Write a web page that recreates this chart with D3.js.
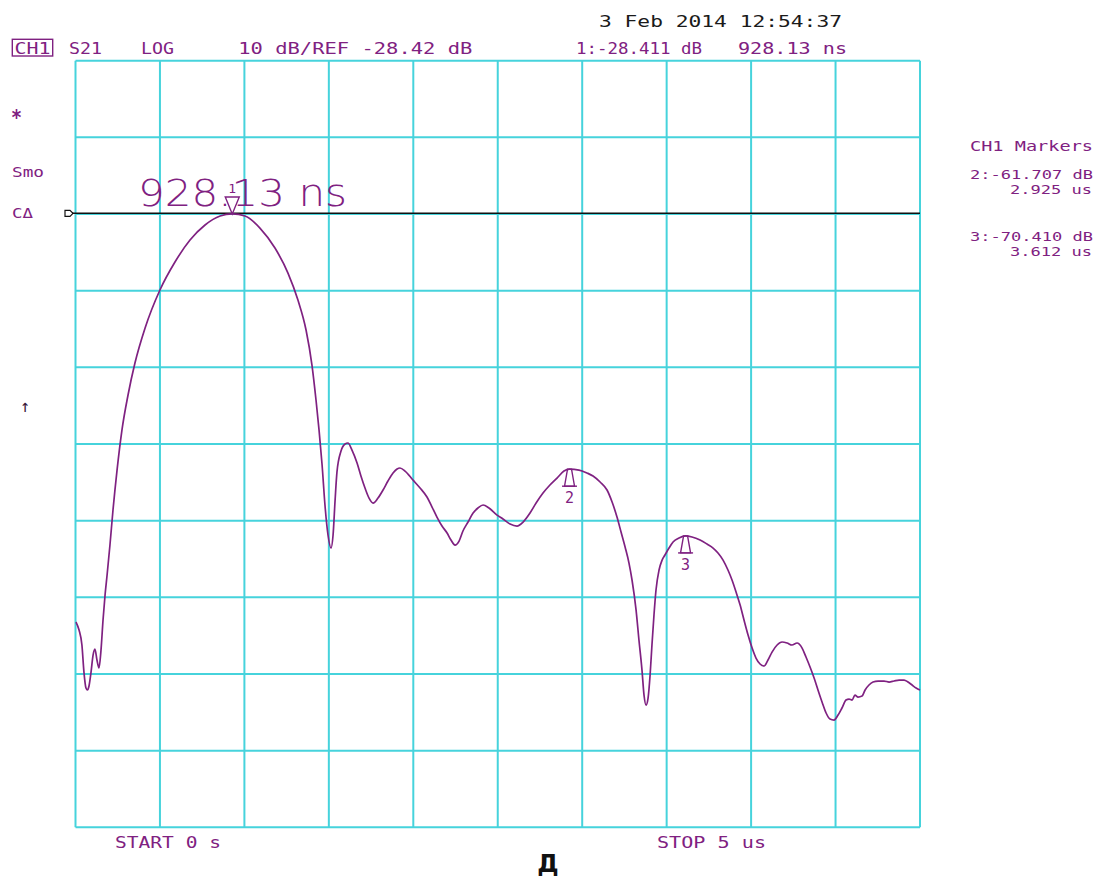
<!DOCTYPE html>
<html>
<head>
<meta charset="utf-8">
<script src="https://cdn.jsdelivr.net/npm/d3@7"></script>
<style>
  html, body { margin: 0; padding: 0; background: #fff; }
  svg { display: block; }
  .mono { font-family: "DejaVu Sans Mono", "Liberation Mono", monospace; }
</style>
</head>
<body>
<svg id="chart" width="1095" height="878"></svg>
<script>
// S21 time-domain response, channel 1 (10 dB/div, reference -28.42 dB)
const timeNs = [
  3, 21, 38, 50, 62, 71, 80, 92, 104, 115, 127, 139, 151, 163, 175, 187, 204, 222, 246, 275,
  311, 352, 412, 500, 589, 678, 767, 856, 928, 1004, 1092, 1181, 1258, 1317, 1365, 1400, 1424, 1442, 1460, 1477,
  1495, 1513, 1525, 1537, 1548, 1572, 1596, 1613, 1637, 1667, 1690, 1714, 1738, 1762, 1791, 1821, 1850, 1880, 1904, 1921,
  1951, 1998, 2040, 2081, 2111, 2140, 2170, 2200, 2223, 2247, 2271, 2294, 2324, 2354, 2383, 2413, 2448, 2496, 2531, 2573,
  2614, 2650, 2691, 2727, 2768, 2809, 2851, 2892, 2925, 2981, 3029, 3064, 3106, 3147, 3177, 3206, 3230, 3254, 3277, 3295,
  3319, 3336, 3354, 3366, 3378, 3390, 3402, 3413, 3425, 3437, 3455, 3473, 3490, 3514, 3538, 3573, 3612, 3650, 3698, 3739,
  3775, 3804, 3834, 3863, 3887, 3911, 3935, 3958, 3982, 4006, 4029, 4053, 4077, 4100, 4124, 4154, 4183, 4213, 4242, 4272,
  4302, 4325, 4349, 4373, 4396, 4420, 4444, 4467, 4491, 4515, 4538, 4562, 4580, 4598, 4615, 4633, 4657, 4675, 4698, 4722,
  4752, 4787, 4817, 4846, 4876, 4906, 4929, 4953, 4977, 5000
];
const magDb = [
  -81.64, -82.69, -84.64, -88.17, -90.25, -90.51, -89.99, -88.17, -85.95, -85.17, -86.60, -87.64, -85.30, -81.38, -78.12, -75.51, -71.60, -67.03, -61.82, -56.60,
  -52.03, -47.86, -43.29, -38.33, -34.68, -31.81, -29.85, -28.68, -28.41, -28.68, -30.25, -32.86, -36.12, -39.64, -43.55, -48.12, -52.68, -56.60, -61.16, -66.38,
  -70.29, -71.99, -70.29, -65.73, -62.08, -59.34, -58.42, -58.29, -59.21, -60.90, -62.60, -64.16, -65.47, -66.12, -65.47, -64.42, -63.25, -62.21, -61.68, -61.55,
  -61.95, -63.12, -64.16, -65.34, -66.64, -67.95, -69.12, -70.03, -70.95, -71.60, -71.08, -69.77, -68.60, -67.42, -66.77, -66.38, -66.77, -67.69, -68.21, -68.86,
  -69.12, -68.60, -67.42, -66.12, -64.82, -63.77, -62.86, -61.95, -61.71, -61.82, -62.21, -62.60, -63.38, -64.42, -65.99, -67.95, -69.90, -71.86, -73.95, -76.16,
  -80.08, -83.99, -87.91, -91.17, -92.47, -91.56, -88.56, -84.64, -80.73, -77.47, -74.86, -73.56, -72.90, -71.99, -71.21, -70.69, -70.41, -70.55, -70.95, -71.47,
  -71.99, -72.64, -73.56, -74.86, -76.16, -77.73, -79.43, -81.38, -83.34, -85.04, -86.34, -87.12, -87.38, -86.60, -85.56, -84.64, -84.25, -84.38, -84.64, -84.38,
  -85.04, -86.21, -87.51, -88.95, -90.51, -92.08, -93.51, -94.30, -94.43, -93.78, -92.86, -91.82, -91.69, -91.82, -91.17, -91.43, -91.30, -90.51, -89.86, -89.47,
  -89.34, -89.34, -89.47, -89.34, -89.21, -89.21, -89.47, -89.86, -90.25, -90.51
];

// Markers
const markerIds = ["1", "2", "3"];
const markerTimeNs = [928.13, 2925, 3612];
const markerDb = [-28.411, -61.707, -70.410];

// Scale settings
const refDb = -28.42;
const dbPerDiv = 10;
const refDiv = 2;          // reference line position, divisions from top
const stopNs = 5000;

const purple = "#7f2181";
const gridColor = "#46d3dc";

const svg = d3.select("#chart");
svg.append("rect").attr("width", 1095).attr("height", 878).attr("fill", "#fff");

const topDb = refDb + refDiv * dbPerDiv;
const bottomDb = topDb - 10 * dbPerDiv;

const x = d3.scaleLinear().domain([0, stopNs]).range([75.5, 920]);
const y = d3.scaleLinear().domain([bottomDb, topDb]).range([827.3, 60.7]);

// Graticule
const g = svg.append("g");
const xTicks = d3.range(0, 11).map(i => i * stopNs / 10);
const yTicks = d3.range(0, 11).map(i => bottomDb + i * dbPerDiv);
g.selectAll("line.v").data(xTicks).join("line")
  .attr("x1", d => x(d)).attr("x2", d => x(d))
  .attr("y1", y(topDb)).attr("y2", y(bottomDb))
  .attr("stroke", gridColor).attr("stroke-width", 2);
g.selectAll("line.h").data(yTicks).join("line")
  .attr("x1", x(0)).attr("x2", x(stopNs))
  .attr("y1", d => y(d)).attr("y2", d => y(d))
  .attr("stroke", gridColor).attr("stroke-width", 2);

// Reference line and pointer
const yRef = y(refDb) - 0.7;
svg.append("line").attr("x1", 72).attr("x2", x(stopNs)).attr("y1", yRef).attr("y2", yRef)
  .attr("stroke", "#111").attr("stroke-width", 1.4);
svg.append("path")
  .attr("d", `M65,${yRef - 3} L70,${yRef - 3} L73,${yRef} L70,${yRef + 3} L65,${yRef + 3} Z`)
  .attr("fill", "none").attr("stroke", "#111").attr("stroke-width", 1.2);

// Trace
const pts = timeNs.map((t, i) => [t, magDb[i]]);
const line = d3.line().x(d => x(d[0])).y(d => y(d[1])).curve(d3.curveMonotoneX);
svg.append("path").attr("d", line(pts))
  .attr("fill", "none").attr("stroke", purple).attr("stroke-width", 1.7)
  .attr("stroke-linejoin", "round");

// Active marker readout (large)
svg.append("text")
  .attr("x", 138).attr("y", 206)
  .attr("textLength", 209).attr("lengthAdjust", "spacingAndGlyphs")
  .attr("font-family", "DejaVu Sans, sans-serif").attr("font-weight", 200)
  .attr("font-size", 37).attr("fill", purple)
  .text(`${markerTimeNs[0].toFixed(2)} ns`);

// Marker symbols
markerIds.forEach((id, i) => {
  const mx = x(markerTimeNs[i]);
  const my = y(markerDb[i]);
  const mg = svg.append("g").attr("fill", "none").attr("stroke", purple).attr("stroke-width", 1.4);
  if (i === 0) {
    mg.append("path").attr("d", `M${mx - 7},${my - 17} L${mx + 7},${my - 17} L${mx},${my} Z`);
    svg.append("text").attr("class", "mono").attr("x", mx).attr("y", my - 21)
      .attr("text-anchor", "middle").attr("font-size", 13).attr("fill", purple).text(id);
  } else {
    mg.append("path").attr("d", `M${mx - 2},${my} L${mx + 2},${my} L${mx + 5},${my + 17} L${mx - 5},${my + 17} Z`);
    mg.append("line").attr("x1", mx - 7.5).attr("x2", mx + 7.5).attr("y1", my + 17).attr("y2", my + 17);
    svg.append("text").attr("class", "mono").attr("x", mx).attr("y", my + 34)
      .attr("text-anchor", "middle").attr("font-size", 15).attr("fill", purple).text(id);
  }
});

// Header and annotations
function label(txt, x0, base, len, opts = {}) {
  const t = svg.append("text").attr("class", "mono")
    .attr("x", x0).attr("y", base)
    .attr("font-size", opts.size || 15)
    .attr("fill", opts.color || purple)
    .text(txt);
  if (len) t.attr("textLength", len).attr("lengthAdjust", "spacingAndGlyphs");
  if (opts.anchor) t.attr("text-anchor", opts.anchor);
  if (opts.weight) t.attr("font-weight", opts.weight);
  return t;
}

label("3 Feb 2014  12:54:37", 599, 27, 243, { color: "#1a1a1a" });

svg.append("rect").attr("x", 12.3).attr("y", 39.3).attr("width", 40.4).attr("height", 16.7)
  .attr("fill", "none").attr("stroke", purple).attr("stroke-width", 1.4);
label("CH1", 14.5, 54, 36);
label("S21", 69, 54, 33);
label("LOG", 141, 54, 33);
label(`10 dB/REF ${refDb.toFixed(2)} dB`, 238.3, 54, 234);
label(`1:${markerDb[0].toFixed(3)} dB`, 576, 54, 126);
label(`${markerTimeNs[0].toFixed(2)} ns`, 738, 54, 109);

label("*", 11, 125, 11, { size: 22, weight: "bold" });
label("Smo", 12, 177, 32, { size: 14 });
label("C\u0394", 12, 218, 21, { size: 14 });
label("\u2191", 20, 412, 10, { size: 17, color: "#3a1a3c" });

label("CH1 Markers", 970, 151, 123, { size: 14 });
label(`2:${markerDb[1].toFixed(3)} dB`, 970, 179, 123, { size: 13 });
label(`${(markerTimeNs[1] / 1000).toFixed(3)} us`, 1010, 194, 82, { size: 13 });
label(`3:${markerDb[2].toFixed(3)} dB`, 970, 241, 123, { size: 13 });
label(`${(markerTimeNs[2] / 1000).toFixed(3)} us`, 1010, 256, 82, { size: 13 });

label("START 0 s", 115, 848, 106);
label(`STOP ${stopNs / 1000} us`, 657, 848, 109);

svg.append("text").attr("x", 548).attr("y", 872).attr("text-anchor", "middle")
  .attr("font-family", "DejaVu Sans, Arial, sans-serif").attr("font-weight", "bold")
  .attr("font-size", 24).attr("fill", "#111").text("Д");
</script>
</body>
</html>
